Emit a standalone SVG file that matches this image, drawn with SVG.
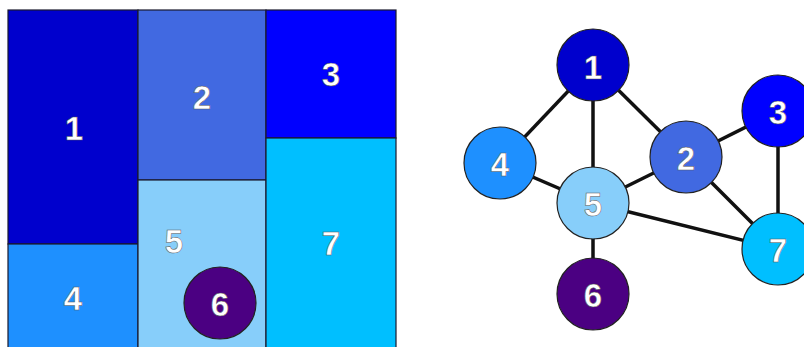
<svg xmlns="http://www.w3.org/2000/svg" width="804" height="347" viewBox="0 0 804 347">
<style>
.cell{stroke:#1a1a2e;stroke-width:1.2}
.node{stroke:#222;stroke-width:1.2}
.lbl{font-family:"Liberation Sans",Arial,sans-serif;font-size:33px;font-weight:bold;fill:#fff;stroke:#555;stroke-width:0.5;text-anchor:middle;dominant-baseline:central}
.edge{stroke:#111;stroke-width:3.5}
</style>
<rect width="804" height="347" fill="#fff"/>
<g id="treemap">
<g id="t1"><rect class="cell" x="8" y="10" width="130" height="234" fill="#0000CD"/><text class="lbl" x="74" y="128">1</text></g>
<g id="t4"><rect class="cell" x="8" y="244" width="130" height="110" fill="#1E90FF"/><text class="lbl" x="73" y="298">4</text></g>
<g id="t2"><rect class="cell" x="138" y="10" width="128" height="170" fill="#4169E1"/><text class="lbl" x="202" y="97">2</text></g>
<g id="t5"><rect class="cell" x="138" y="180" width="128" height="174" fill="#87CEFA"/><text class="lbl" x="174" y="241">5</text></g>
<g id="t3"><rect class="cell" x="266" y="10" width="130" height="128" fill="#0000FF"/><text class="lbl" x="331" y="74">3</text></g>
<g id="t7"><rect class="cell" x="266" y="138" width="130" height="216" fill="#00BFFF"/><text class="lbl" x="331" y="243">7</text></g>
<g id="t6"><circle class="node" cx="220" cy="303" r="36" fill="#4B0082"/><text class="lbl" x="220" y="304">6</text></g>
</g>
<g id="edges">
<line class="edge" x1="593" y1="65" x2="500" y2="163"/>
<line class="edge" x1="593" y1="65" x2="593" y2="203"/>
<line class="edge" x1="593" y1="65" x2="686" y2="157"/>
<line class="edge" x1="686" y1="157" x2="778" y2="111"/>
<line class="edge" x1="686" y1="157" x2="593" y2="203"/>
<line class="edge" x1="686" y1="157" x2="778" y2="249"/>
<line class="edge" x1="778" y1="111" x2="778" y2="249"/>
<line class="edge" x1="500" y1="163" x2="593" y2="203"/>
<line class="edge" x1="593" y1="203" x2="778" y2="249"/>
<line class="edge" x1="593" y1="203" x2="593" y2="294"/>
</g>
<g id="n1"><circle class="node" cx="593" cy="65" r="36" fill="#0000CD"/><text class="lbl" x="593" y="67">1</text></g>
<g id="n4"><circle class="node" cx="500" cy="163" r="36" fill="#1E90FF"/><text class="lbl" x="500" y="164">4</text></g>
<g id="n2"><circle class="node" cx="686" cy="157" r="36" fill="#4169E1"/><text class="lbl" x="686" y="158">2</text></g>
<g id="n3"><circle class="node" cx="778" cy="111" r="36" fill="#0000FF"/><text class="lbl" x="778" y="112">3</text></g>
<g id="n7"><circle class="node" cx="778" cy="249" r="36" fill="#00BFFF"/><text class="lbl" x="778" y="250">7</text></g>
<g id="n5"><circle class="node" cx="593" cy="203" r="36" fill="#87CEFA"/><text class="lbl" x="593" y="204">5</text></g>
<g id="n6"><circle class="node" cx="593" cy="294" r="36" fill="#4B0082"/><text class="lbl" x="593" y="295">6</text></g>
</svg>
